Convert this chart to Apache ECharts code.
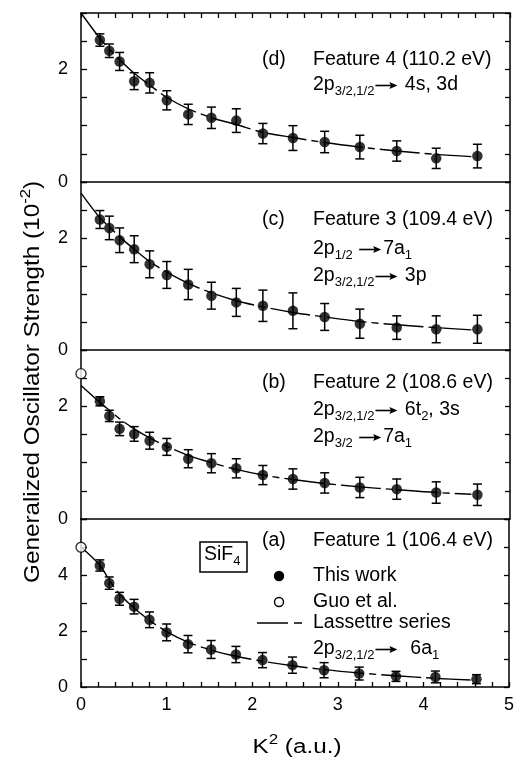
<!DOCTYPE html>
<html><head><meta charset="utf-8">
<script src="https://cdn.jsdelivr.net/npm/echarts@6/dist/echarts.min.js"></script>
<style>html,body{margin:0;padding:0;background:#fff}#c{width:517px;height:759px}</style>
</head><body><div id="c"></div>
<script>
// ---------- data ----------
const K2 = [0.22,0.33,0.45,0.62,0.80,1.00,1.25,1.52,1.81,2.12,2.47,2.84,3.25,3.68,4.14,4.62];

const gosD = [2.52,2.33,2.14,1.79,1.76,1.45,1.20,1.14,1.09,0.86,0.78,0.71,0.62,0.55,0.42,0.46];
const errD = [0.11,0.12,0.16,0.15,0.18,0.17,0.18,0.19,0.21,0.18,0.22,0.19,0.21,0.18,0.18,0.21];
const gosC = [2.33,2.18,1.96,1.80,1.53,1.34,1.17,0.97,0.85,0.79,0.70,0.59,0.47,0.40,0.37,0.37];
const errC = [0.16,0.21,0.22,0.24,0.24,0.24,0.27,0.24,0.25,0.28,0.32,0.24,0.26,0.21,0.24,0.25];
const gosB = [2.09,1.83,1.60,1.51,1.39,1.28,1.07,0.99,0.90,0.78,0.71,0.64,0.56,0.53,0.47,0.43];
const errB = [0.08,0.10,0.12,0.13,0.15,0.15,0.16,0.17,0.17,0.17,0.18,0.18,0.18,0.18,0.19,0.19];
const gosA = [4.34,3.71,3.15,2.87,2.40,1.95,1.53,1.34,1.16,0.96,0.78,0.60,0.48,0.38,0.36,0.28];
const errA = [0.20,0.22,0.23,0.26,0.28,0.30,0.31,0.32,0.29,0.27,0.29,0.27,0.23,0.18,0.21,0.16];

// Guo et al. (open circles)
const guoB = [[0, 2.58]];
const guoA = [[0, 4.99]];

// Lassettre series fits
const fitX  = [0,0.22,0.33,0.45,0.62,0.80,1.00,1.25,1.52,1.81,2.12,2.47,2.84,3.25,3.68,4.14,4.55];
const fitD  = [3.00,2.55,2.36,2.17,1.93,1.72,1.50,1.30,1.14,1.02,0.88,0.79,0.70,0.62,0.55,0.49,0.45];
const fitC  = [2.80,2.36,2.20,2.02,1.80,1.58,1.39,1.19,1.02,0.88,0.77,0.67,0.59,0.51,0.45,0.40,0.36];
const fitB  = [2.37,2.07,1.93,1.78,1.60,1.44,1.29,1.13,1.00,0.88,0.78,0.70,0.63,0.57,0.52,0.47,0.44];
const fitA  = [5.00,4.35,3.82,3.32,2.82,2.38,1.98,1.60,1.32,1.10,0.92,0.76,0.62,0.50,0.40,0.31,0.25];

const xTickLabels = [0,1,2,3,4,5];
const yLabelsSmall = [0,2];
const yLabelsA = [0,2,4];

// ---------- chart ----------
const FONT = 'Liberation Sans';
const L = 81, W = 429;
const panels = [
  {top:13,  h:169, max:3, step:0.5, labels:yLabelsSmall, gos:gosD, err:errD, fit:fitD, guo:null},
  {top:182, h:168, max:3, step:0.5, labels:yLabelsSmall, gos:gosC, err:errC, fit:fitC, guo:null},
  {top:350, h:169, max:3, step:0.5, labels:yLabelsSmall, gos:gosB, err:errB, fit:fitB, guo:guoB},
  {top:519, h:168, max:6, step:1,   labels:yLabelsA,     gos:gosA, err:errA, fit:fitA, guo:guoA}
];
const LS = {color:'#000', width:1.5};
const grid=[], xAxis=[], yAxis=[], series=[];
panels.forEach((p,i)=>{
  const last = i===3;
  grid.push({left:L, width:W, top:p.top, height:p.h});
  xAxis.push({type:'value', gridIndex:i, min:0, max:5, interval:1, position:'bottom',
    axisLine:{show:true, onZero:false, lineStyle:LS},
    axisTick:{show:last, inside:true, length:5, lineStyle:{color:'#000', width:1.3}},
    minorTick:{show:last, splitNumber:5, length:5, lineStyle:{color:'#000', width:1.3}},
    axisLabel:{show:last, margin:9, color:'#000', fontFamily:FONT, fontSize:18,
      formatter:v=> xTickLabels.indexOf(v)>=0 ? String(v) : ''},
    splitLine:{show:false}});
  yAxis.push({type:'value', gridIndex:i, min:0, max:p.max, interval:p.step, position:'left',
    axisLine:{show:true, onZero:false, lineStyle:LS},
    axisTick:{show:true, inside:true, length:6, lineStyle:{color:'#000', width:1.3}},
    axisLabel:{show:true, margin:13, color:'#000', fontFamily:FONT, fontSize:18,
      formatter:v=> p.labels.indexOf(v)>=0 ? String(v) : ''},
    splitLine:{show:false}});
  yAxis.push({type:'value', gridIndex:i, min:0, max:p.max, interval:p.step, position:'right',
    axisLine:{show:true, onZero:false, lineStyle:LS},
    axisTick:{show:true, inside:true, length:5, lineStyle:{color:'#000', width:1.3}},
    axisLabel:{show:false}, splitLine:{show:false}});
});
// top axis of panel d
xAxis.push({type:'value', gridIndex:0, min:0, max:5, interval:1, position:'top',
  axisLine:{show:true, onZero:false, lineStyle:LS},
  axisTick:{show:true, inside:true, length:5, lineStyle:{color:'#000', width:1.3}},
  minorTick:{show:true, splitNumber:5, length:5, lineStyle:{color:'#000', width:1.3}},
  axisLabel:{show:false}, splitLine:{show:false}});

function errRender(params, api){
  const x=api.value(0), y=api.value(1), e=api.value(2);
  const t=api.coord([x,y+e]), b=api.coord([x,y-e]);
  const hw=4.5, st={stroke:'#000', lineWidth:1.5};
  return {type:'group', children:[
    {type:'line', shape:{x1:t[0],y1:t[1],x2:b[0],y2:b[1]}, style:st},
    {type:'line', shape:{x1:t[0]-hw,y1:t[1],x2:t[0]+hw,y2:t[1]}, style:st},
    {type:'line', shape:{x1:b[0]-hw,y1:b[1],x2:b[0]+hw,y2:b[1]}, style:st}
  ]};
}
const DASH = [40,5,7,5];
panels.forEach((p,i)=>{
  series.push({type:'line', xAxisIndex:i, yAxisIndex:2*i, smooth:0.3, symbol:'none', silent:true,
    data: fitX.map((x,k)=>[x,p.fit[k]]), lineStyle:{color:'#000', width:1.4, type:DASH}, z:2});
  series.push({type:'custom', xAxisIndex:i, yAxisIndex:2*i, renderItem:errRender, silent:true,
    encode:{x:0,y:1}, data: K2.map((x,k)=>[x,p.gos[k],p.err[k]]), z:3});
  series.push({type:'scatter', xAxisIndex:i, yAxisIndex:2*i, symbol:'circle', symbolSize:10.5, silent:true,
    itemStyle:{color:'#000'}, data: K2.map((x,k)=>[x,p.gos[k]]), z:4});
  if(p.guo) series.push({type:'scatter', xAxisIndex:i, yAxisIndex:2*i, symbol:'circle', symbolSize:10, silent:true,
    itemStyle:{color:'#fff', borderColor:'#000', borderWidth:1.4}, data:p.guo, z:5});
});

// ---------- text with sub/superscripts and drawn arrows ----------
const mctx = document.createElement('canvas').getContext('2d');
function mw(t, s){ mctx.font = s+'px "'+FONT+'"'; return mctx.measureText(t).width; }
function runs(x, y, parts, size, subSize){
  size = size||19; subSize = subSize||13;
  const out=[]; let cx=x;
  parts.forEach(pt=>{
    const t=pt[0], k=pt[1]||'n';
    if(k==='a'){
      const aw = 23, ay = y+0.5;
      out.push({type:'line', shape:{x1:cx+1, y1:ay, x2:cx+aw-5, y2:ay}, style:{stroke:'#000', lineWidth:1.6}, silent:true});
      out.push({type:'polygon', shape:{points:[[cx+aw-8,ay-3.6],[cx+aw,ay],[cx+aw-8,ay+3.6],[cx+aw-6.5,ay]]}, style:{fill:'#000'}, silent:true});
      cx += aw + 2; return;
    }
    const s = k==='n'? size : subSize;
    const dy = k==='s'? 6 : (k==='u'? -7 : 0);
    out.push({type:'text', x:cx, y:y+dy, silent:true,
      style:{text:t, fill:'#000', font:s+'px "'+FONT+'"', textVerticalAlign:'middle', verticalAlign:'middle', textAlign:'left', align:'left'}});
    cx += mw(t,s);
  });
  return {elements:out, width:cx-x};
}
const graphic=[];
function add(r){ r.elements.forEach(e=>graphic.push(e)); }
const TX = 313, LX = 262, FS = 19.5;
// panel d
add(runs(LX, 60, [['(d)']], FS));
add(runs(TX, 60, [['Feature 4 (110.2 eV)']], FS));
add(runs(TX, 85, [['2p'],['3/2,1/2','s'],['','a'],[' 4s, 3d']], FS));
// panel c
add(runs(LX, 220, [['(c)']], FS));
add(runs(TX, 220, [['Feature 3 (109.4 eV)']], FS));
add(runs(TX, 249, [['2p'],['1/2','s'],[' '],['','a'],['7a'],['1','s']], FS));
add(runs(TX, 276, [['2p'],['3/2,1/2','s'],['','a'],[' 3p']], FS));
// panel b
add(runs(LX, 383, [['(b)']], FS));
add(runs(TX, 383, [['Feature 2 (108.6 eV)']], FS));
add(runs(TX, 410, [['2p'],['3/2,1/2','s'],['','a'],[' 6t'],['2','s'],[', 3s']], FS));
add(runs(TX, 437, [['2p'],['3/2','s'],[' '],['','a'],['7a'],['1','s']], FS));
// panel a
add(runs(LX, 541, [['(a)']], FS));
add(runs(TX, 541, [['Feature 1 (106.4 eV)']], FS));
add(runs(TX, 576, [['This work']], FS));
add(runs(TX, 602, [['Guo et al.']], FS));
add(runs(TX, 623, [['Lassettre series']], FS));
add(runs(TX, 649, [['2p'],['3/2,1/2','s'],['','a'],['  6a'],['1','s']], FS));
// legend markers
graphic.push({type:'circle', shape:{cx:279, cy:576, r:5.2}, style:{fill:'#000'}, silent:true});
graphic.push({type:'circle', shape:{cx:279, cy:602, r:4.5}, style:{fill:'#fff', stroke:'#000', lineWidth:1.4}, silent:true});
graphic.push({type:'line', shape:{x1:257, y1:623, x2:305, y2:623}, style:{stroke:'#000', lineWidth:1.4, lineDash:[31,6,8,50]}, silent:true});
// SiF4 box
graphic.push({type:'rect', shape:{x:200, y:542, width:47, height:30}, style:{fill:'none', stroke:'#000', lineWidth:1.5}, silent:true});
add(runs(204, 555, [['SiF'],['4','s']], FS));
// axis titles
(function(){
  const r = runs(0, 0, [['K'],['2','u'],[' (a.u.)']], 20, 14);
  graphic.push({type:'group', x:297 - 89/2, y:747, scaleX:89/r.width, children:r.elements, silent:true});
})();
(function(){
  const r = runs(0, 0, [['Generalized Oscillator Strength (10'],['-2','u'],[')']], 22, 15);
  const len = 402;
  graphic.push({type:'group', x:33, y:382 + len/2, rotation:Math.PI/2, scaleX:len/r.width, children:r.elements, silent:true});
})();

const chart = echarts.init(document.getElementById('c'), null, {renderer:'canvas'});
chart.setOption({animation:false, backgroundColor:'#fff', grid, xAxis, yAxis, series, graphic});
</script></body></html>
